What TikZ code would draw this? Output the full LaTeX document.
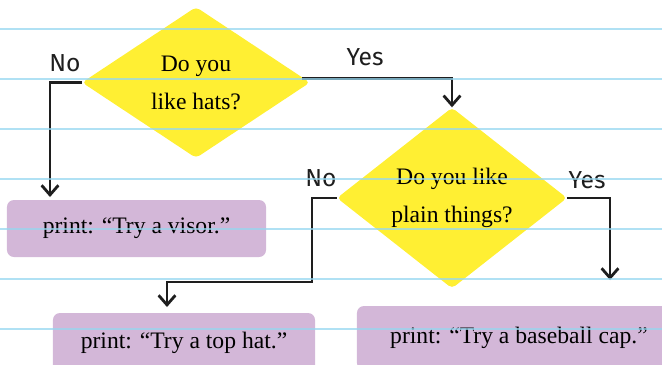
\documentclass[tikz,border=0pt]{standalone}
\usepackage{fontspec}
\setmainfont{Liberation Serif}
\newfontfamily\handfont{Fira Sans}
\usepackage{xcolor}
\usepackage{tikz}
\usetikzlibrary{positioning,arrows.meta,shapes.geometric,calc}
\definecolor{hatyellow}{RGB}{255,239,51}
\definecolor{hatpurple}{RGB}{211,183,216}
\definecolor{ruleblue}{RGB}{150,215,240}
\definecolor{inkblack}{RGB}{30,30,30}
\tikzset{
  ask/.style={diamond, fill=hatyellow, rounded corners=3pt, inner sep=0pt, align=center, font=\fontsize{16.8}{27}\selectfont},
  printbox/.style={rounded corners=5pt, fill=hatpurple, inner sep=0pt, font=\fontsize{16.8}{20}\selectfont},
  lbl/.style={font=\handfont\fontsize{17.5}{19}\selectfont, text=inkblack, inner sep=0pt},
  arr/.style={-{Straight Barb[length=2.4mm, width=4.2mm, line width=2pt]}, line width=2pt, draw=inkblack},
  ruleline/.style={draw=ruleblue, line width=2pt, opacity=0.75},
}
\begin{document}
\begin{tikzpicture}[x=0.025cm, y=-0.025cm]
  \useasboundingbox (0,0) rectangle (662,364);
  \clip (0,0) rectangle (662,364);
  \node[ask, minimum width=5.7cm, minimum height=3.775cm] (hats) at (196,82.5) {Do you\\like hats?};
  \node[ask, minimum width=5.75cm, minimum height=4.3cm] (plain) at (452,198) {Do you like\\plain things?};
  \node[printbox, minimum width=6.475cm, minimum height=1.425cm] (visor) at (136.5,228.5) {print: ``Try a visor.''};
  \node[printbox, minimum width=6.55cm, minimum height=1.5cm] (tophat) at (184,343) {print: ``Try a top hat.''};
  \node[printbox, minimum width=8.1cm, minimum height=1.6cm] (cap) at (519,338) {print: ``Try a baseball cap.''};
  \coordinate (visortip) at (50,197);
  \coordinate (nobend) at (312,282);
  \coordinate (toptip) at (167,307);
  \coordinate (captip) at (610,280);
  \draw[arr] (hats.west) -| (visortip);
  \draw[arr] ([xshift=-0.2cm,yshift=0.1cm]hats.east) -| (plain.north);
  \draw[arr] (plain.west) -| (nobend) -| (toptip);
  \draw[arr] (plain.east) -| (captip);
  \node[lbl] (hatsno) at (65,63) {No};
  \node[lbl] (hatsyes) at (365,57) {Yes};
  \node[lbl] (plainno) at (321,178) {No};
  \node[lbl] (plainyes) at (587,180) {Yes};
  \foreach \y in {29,79,...,329}
    \draw[ruleline] (0,\y) -- (662,\y);
\end{tikzpicture}
\end{document}
